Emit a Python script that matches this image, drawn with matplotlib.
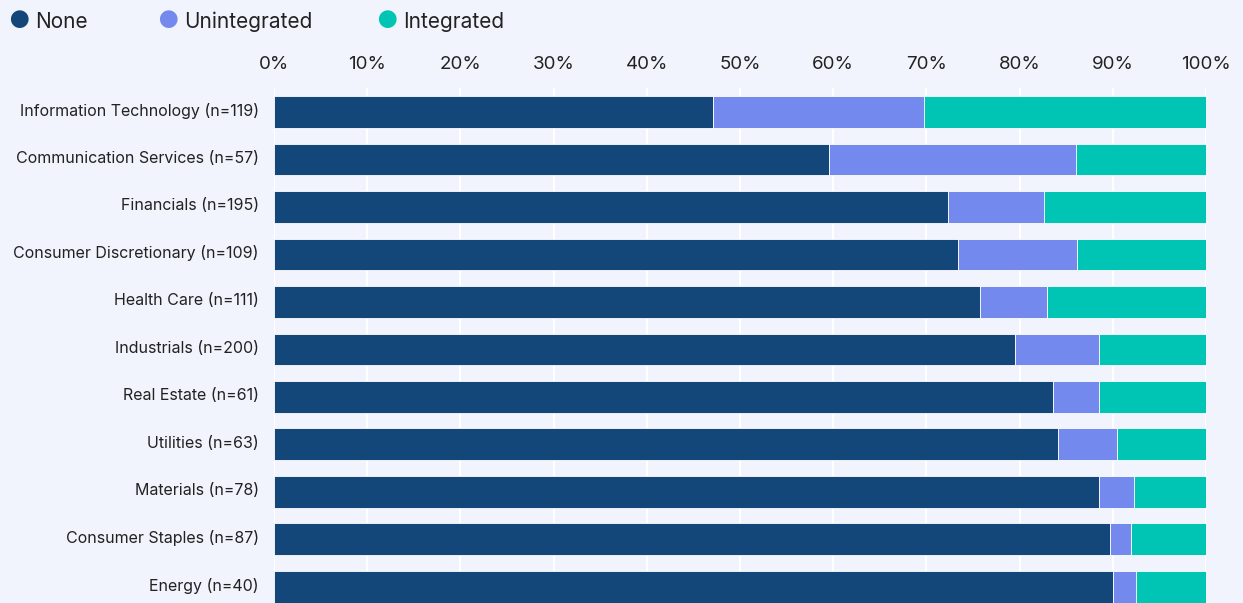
import matplotlib.pyplot as plt
import numpy as np

categories = ["Information Technology (n=119)", "Communication Services (n=57)",
              "Financials (n=195)", "Consumer Discretionary (n=109)",
              "Health Care (n=111)", "Industrials (n=200)", "Real Estate (n=61)",
              "Utilities (n=63)", "Materials (n=78)", "Consumer Staples (n=87)",
              "Energy (n=40)"]
none = [47.1, 59.6, 72.3, 73.4, 75.7, 79.5, 83.6, 84.1, 88.5, 89.7, 90.0]
unintegrated = [22.6, 26.4, 10.3, 12.8, 7.2, 9.0, 4.9, 6.4, 3.8, 2.3, 2.5]
integrated = [30.3, 14.0, 17.4, 13.8, 17.1, 11.5, 11.5, 9.5, 7.7, 8.0, 7.5]

series = [("None", none, "#134679"), ("Unintegrated", unintegrated, "#7389EE"),
          ("Integrated", integrated, "#00C4B4")]

plt.rcParams['font.family'] = ['Inter', 'DejaVu Sans']
bg = "#F1F4FC"

fig = plt.figure(figsize=(12.43, 6.03), dpi=100, facecolor=bg)
ax = fig.add_axes([274/1243, 0, 932/1243, (603-88)/603])
ax.set_facecolor(bg)

y = np.arange(len(categories))
left = np.zeros(len(categories))
for name, vals, col in series:
    ax.barh(y, vals, left=left, height=0.67, color=col, edgecolor="white",
            linewidth=0.6, zorder=3)
    left += np.array(vals)

ax.set_xlim(0, 100)
ax.set_ylim(10.34, -0.505)
ax.set_xticks(np.arange(0, 101, 10))
ax.set_xticklabels([f"{v}%" for v in range(0, 101, 10)], fontsize=13.5, color="#222222")
ax.xaxis.tick_top()
ax.tick_params(axis="x", length=0, pad=11)
ax.set_yticks(y - 0.06)
ax.set_yticklabels(categories, fontsize=11.5, color="#222222")
ax.tick_params(axis="y", length=0, pad=11)
ax.grid(axis="x", color="white", linewidth=1.5, zorder=0)
for s in ax.spines.values():
    s.set_visible(False)

# legend
leg_x = [19, 168, 387]
for (name, vals, col), lx in zip(series, leg_x):
    fig.text(lx/1243, 1 - 22/603, "\u25CF", color=col, fontsize=17, ha="center", va="center")
    fig.text((lx + 16)/1243, 1 - 21.5/603, name, color="#222222", fontsize=15, ha="left", va="center")

fig.savefig("out.png", dpi=100, facecolor=bg)
